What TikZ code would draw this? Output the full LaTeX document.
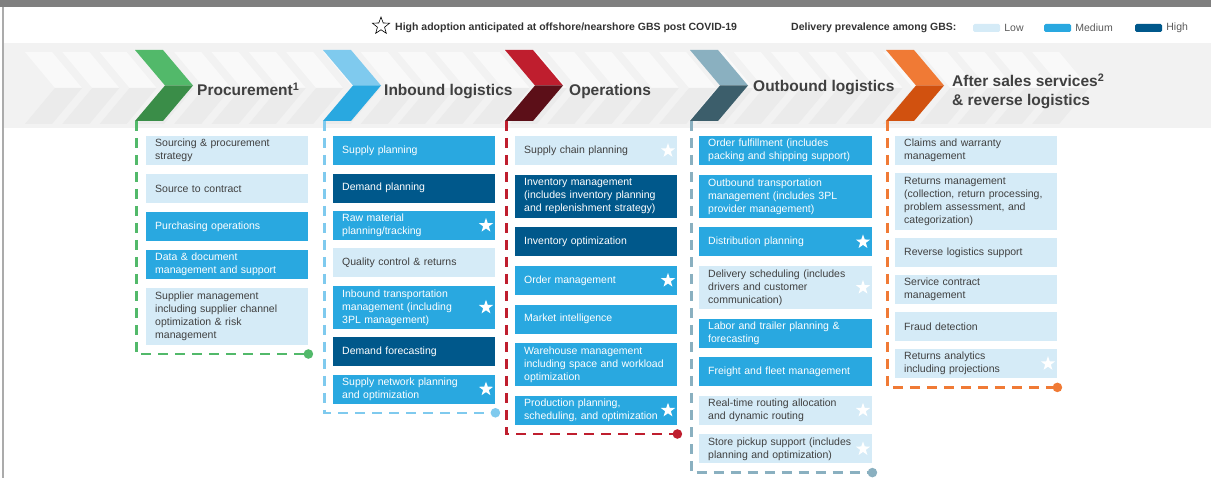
\documentclass[tikz,border=0pt]{standalone}
\usepackage{fontspec}
\setmainfont{Liberation Sans}
\usetikzlibrary{positioning, shapes.geometric}

\definecolor{lowc}{HTML}{D5EBF7}
\definecolor{medc}{HTML}{29A8E0}
\definecolor{highc}{HTML}{00588B}
\definecolor{txtc}{HTML}{404040}
\definecolor{keyc}{HTML}{333333}
\definecolor{greyc}{HTML}{595959}
\definecolor{barc}{HTML}{7F7F7F}
\definecolor{rulec}{HTML}{ABABAB}
\definecolor{bandc}{HTML}{F2F2F2}
\definecolor{fadeA}{HTML}{F9F9F9}
\definecolor{fadeB}{HTML}{EBEBEB}
\definecolor{grnA}{HTML}{52B96A}
\definecolor{grnB}{HTML}{3A8D48}
\definecolor{bluA}{HTML}{7FCAEE}
\definecolor{bluB}{HTML}{29A8E0}
\definecolor{redA}{HTML}{BF1E2E}
\definecolor{redB}{HTML}{5C0F18}
\definecolor{tealA}{HTML}{8AB0C0}
\definecolor{tealB}{HTML}{3C5E6B}
\definecolor{orgA}{HTML}{F07A35}
\definecolor{orgB}{HTML}{D1510F}

\begin{document}
\begin{tikzpicture}[
            x = 1pt, y = -1pt, % pixel grid, origin top left
            node distance = 9pt, % gap between boxes
            box/.style = {rectangle, minimum height = 29pt, inner xsep = 9pt, inner ysep = 1pt,
                text width = 144pt, align = left, font = \fontsize{10.5}{13}\selectfont},
            wide/.style = {text width = 155pt},
            low/.style = {box, fill = lowc, text = txtc},
            med/.style = {box, fill = medc, text = white},
            high/.style = {box, fill = highc, text = white},
            l3/.style = {minimum height = 43pt},
            l4/.style = {minimum height = 57pt},
            adopt/.style = {star, star points = 5, star point ratio = 2.5, fill = white,
                minimum size = 15pt, inner sep = 0pt},
            head/.style = {anchor = base west, inner sep = 0pt, text = txtc, align = left,
                font = \fontsize{15.5}{19}\selectfont\bfseries},
            keytxt/.style = {anchor = west, inner sep = 0pt, font = \fontsize{10.5}{12}\selectfont},
            swatch/.style = {rectangle, rounded corners = 1.5pt, minimum width = 27pt,
                minimum height = 8pt, inner sep = 0pt},
            frame/.style = {dash pattern = on 10pt off 7pt, line width = 2.5pt}
        ]

        \useasboundingbox (0,0) rectangle (1211,478);

        % page frame
        \fill[barc] (0,0) rectangle (1211,7);
        \draw[rulec, line width = 1.5pt] (3,7) -- (3,478);

        % legend
        \node[star, star points = 5, star point ratio = 2.4, draw = black, line width = 0.6pt,
            minimum size = 18pt, inner sep = 0pt] (key-star) at (381,26) {};
        \node[keytxt, text = keyc, font = \fontsize{10.5}{12}\selectfont\bfseries] (key-adopt) at (395,28)
            {High adoption anticipated at offshore/nearshore GBS post COVID-19};
        \node[keytxt, text = keyc, font = \fontsize{10.5}{12}\selectfont\bfseries] (key-prev) at (791,28)
            {Delivery prevalence among GBS:};
        \node[swatch, fill = lowc] (key-low) at (986.5,28) {};
        \node[keytxt, text = greyc, right = 4pt of key-low] (key-low-t) {Low};
        \node[swatch, fill = medc] (key-med) at (1057.5,28) {};
        \node[keytxt, text = greyc, right = 4pt of key-med] (key-med-t) {Medium};
        \node[swatch, fill = highc] (key-high) at (1148.5,28) {};
        \node[keytxt, text = greyc, right = 4pt of key-high] (key-high-t) {High};

        % chevron band
        \fill[bandc] (4,43) rectangle (1211,128);
        \foreach \k in {0,...,27} {
            \pgfmathsetmacro\x{25+37.3*\k}
            \fill[fadeA] (\x,52) -- ++(27,0) -- ++(30,36) -- ++(-27,0) -- cycle;
            \fill[fadeB] (\x+30,88) -- ++(27,0) -- ++(-30,36) -- ++(-27,0) -- cycle;
        }
        \foreach \x/\ca/\cb/\n in {135/grnA/grnB/pr, 323/bluA/bluB/in, 505/redA/redB/op,
                690/tealA/tealB/ob, 886/orgA/orgB/as} {
            \fill[\ca] (\x,50) -- ++(28,0) -- ++(30,35.5) -- ++(-28,0) -- cycle;
            \fill[\cb] (\x+30,85.5) -- ++(28,0) -- ++(-30,35.5) -- ++(-28,0) -- cycle;
            \coordinate (\n-top) at (\x+1.25,121);
        }

        % stage titles
        \node[head] (pr-h) at (197,96) {Procurement\textsuperscript{1}};
        \node[head] (in-h) at (384,96) {Inbound logistics};
        \node[head] (op-h) at (569,96) {Operations};
        \node[head] (ob-h) at (753,92) {Outbound logistics};
        \node[head] (as-h) at (952,106) {After sales services\textsuperscript{2}\\\& reverse logistics};

        % Procurement
        \begin{scope}[node distance = 8.5pt]
            \node[low, anchor = north west] (pr1) at (146,136) {Sourcing \& procurement\\strategy};
            \node[low, below = of pr1] (pr2) {Source to contract};
            \node[med, below = of pr2] (pr3) {Purchasing operations};
            \node[med, below = of pr3] (pr4) {Data \& document\\management and support};
            \node[low, l4, below = of pr4] (pr5) {Supplier management\\including supplier channel\\optimization \& risk\\management};
        \end{scope}

        % Inbound logistics
        \begin{scope}[node distance = 8pt]
            \node[med, anchor = north west] (in1) at (333,136) {Supply planning};
            \node[high, below = of in1] (in2) {Demand planning};
            \node[med, below = of in2] (in3) {Raw material\\planning/tracking};
            \node[low, below = of in3] (in4) {Quality control \& returns};
            \node[med, l3, below = of in4] (in5) {Inbound transportation\\management (including\\3PL management)};
            \node[high, below = of in5] (in6) {Demand forecasting};
            \node[med, below = of in6] (in7) {Supply network planning\\and optimization};
        \end{scope}

        % Operations
        \begin{scope}[node distance = 9.2pt]
            \node[low, anchor = north west] (op1) at (515,136) {Supply chain planning};
            \node[high, l3, below = of op1] (op2) {Inventory management\\(includes inventory planning\\and replenishment strategy)};
            \node[high, below = of op2] (op3) {Inventory optimization};
            \node[med, below = of op3] (op4) {Order management};
            \node[med, below = of op4] (op5) {Market intelligence};
            \node[med, l3, below = of op5] (op6) {Warehouse management\\including space and workload\\optimization};
            \node[med, below = of op6] (op7) {Production planning,\\scheduling, and optimization};
        \end{scope}

        % Outbound logistics
        \begin{scope}[node distance = 9.2pt]
            \node[med, wide, anchor = north west] (ob1) at (699,136) {Order fulfillment (includes\\packing and shipping support)};
            \node[med, wide, l3, below = of ob1] (ob2) {Outbound transportation\\management (includes 3PL\\provider management)};
            \node[med, wide, below = of ob2] (ob3) {Distribution planning};
            \node[low, wide, l3, below = of ob3] (ob4) {Delivery scheduling (includes\\drivers and customer\\communication)};
            \node[med, wide, below = of ob4] (ob5) {Labor and trailer planning \&\\forecasting};
            \node[med, wide, below = of ob5] (ob6) {Freight and fleet management};
            \node[low, wide, below = of ob6] (ob7) {Real-time routing allocation\\and dynamic routing};
            \node[low, wide, below = of ob7] (ob8) {Store pickup support (includes\\planning and optimization)};
        \end{scope}

        % After sales services
        \begin{scope}[node distance = 7.6pt]
            \node[low, anchor = north west] (as1) at (895,136) {Claims and warranty\\management};
            \node[low, l4, below = of as1] (as2) {Returns management\\(collection, return processing,\\problem assessment, and\\categorization)};
            \node[low, below = of as2] (as3) {Reverse logistics support};
            \node[low, below = of as3] (as4) {Service contract\\management};
            \node[low, below = of as4] (as5) {Fraud detection};
            \node[low, below = of as5] (as6) {Returns analytics\\including projections};
        \end{scope}

        % high adoption stars
        \foreach \b in {in3, in5, in7, op1, op4, op7, ob3, ob4, ob7, ob8, as6}
            \node[adopt, left = 5pt of \b.east] (\b-s) {};

        % stage frames
        \foreach \n/\last/\c in {pr/pr5/grnA, in/in7/bluA, op/op7/redA, ob/ob8/tealA, as/as6/orgA} {
            \coordinate[below = 9pt of \last.south east] (\n-end);
            \draw[frame, \c] (\n-top) |- (\n-end);
            \fill[\c] (\n-end) circle (4.8pt);
        }

    \end{tikzpicture}
\end{document}
